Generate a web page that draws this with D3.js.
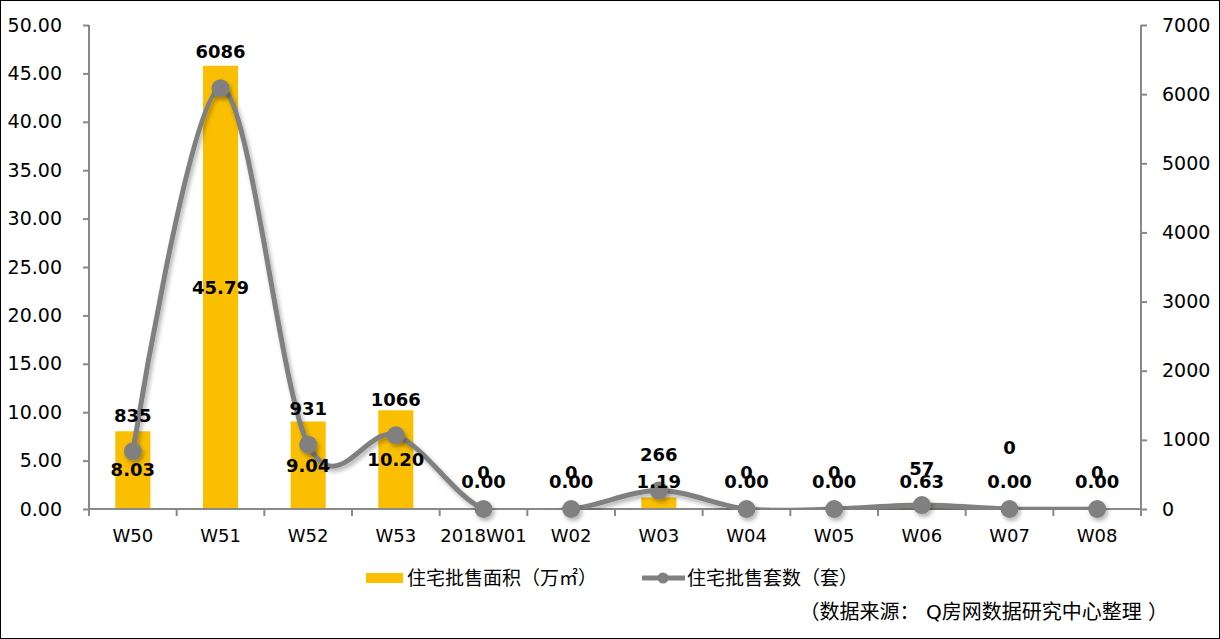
<!DOCTYPE html>
<html>
<head>
<meta charset="utf-8">
<script src="https://cdn.jsdelivr.net/npm/d3@7"></script>
<style>
    body { margin: 0; background: #fff; }
    text { font-family: "DejaVu Sans", "Noto Sans CJK SC", sans-serif; }
</style>
</head>
<body>
<script>
// weekly data
let weeks = ['W50', 'W51', 'W52', 'W53', '2018W01', 'W02', 'W03', 'W04', 'W05', 'W06', 'W07', 'W08'];
let areaValues = [8.03, 45.79, 9.04, 10.20, 0, 0, 1.19, 0, 0, 0.63, 0, 0];
let unitValues = [835, 6086, 931, 1066, 0, 0, 266, 0, 0, 57, 0, 0];
let leftTicks = [0, 5, 10, 15, 20, 25, 30, 35, 40, 45, 50];
let rightTicks = [0, 1000, 2000, 3000, 4000, 5000, 6000, 7000];
let areaName = '住宅批售面积（万㎡）';
let unitName = '住宅批售套数（套）';
let sourceNote = '（数据来源： Q房网数据研究中心整理 ）';

let W = 1220, H = 639;
let margin = {top: 25, bottom: 130, right: 79, left: 89},
    width = W - margin.left - margin.right,
    height = H - margin.top - margin.bottom;
let barColor = '#FABF00', lineColor = '#808080', axisColor = '#898989';

let svg = d3.select('body').append('svg')
    .attr('width', W)
    .attr('height', H);

let defs = svg.append('defs');
let f = defs.append('filter').attr('id', 'shadow')
    .attr('x', '-50%').attr('y', '-50%').attr('width', '200%').attr('height', '200%');
f.append('feDropShadow').attr('dx', 2).attr('dy', 3).attr('stdDeviation', 2)
    .attr('flood-color', '#000').attr('flood-opacity', 0.3);
// series are clipped to the plot area like in the original chart
defs.append('clipPath').attr('id', 'plot')
    .append('rect').attr('x', -20).attr('y', -20).attr('width', width + 40).attr('height', height + 21);

svg.append('rect').attr('x', 0.5).attr('y', 0.5).attr('width', W - 1).attr('height', H - 1)
    .attr('fill', '#fff').attr('stroke', '#000').attr('stroke-width', 1);

let g = svg.append('g').attr('transform', 'translate(' + margin.left + ',' + margin.top + ')');

let x = d3.scaleBand().domain(weeks).range([0, width]).paddingInner(0.6).paddingOuter(0.3);
let xc = function (d) { return x(d) + x.bandwidth() / 2; };
let yL = d3.scaleLinear().domain([0, 50]).range([height, 0]);
let yR = d3.scaleLinear().domain([0, 7000]).range([height, 0]);

// axes
let axisL = g.append('g')
    .call(d3.axisLeft(yL).tickValues(leftTicks).tickFormat(d3.format('.2f')).tickSize(6).tickPadding(21));
let axisR = g.append('g').attr('transform', 'translate(' + width + ',0)')
    .call(d3.axisRight(yR).tickValues(rightTicks).tickFormat(d3.format('d')).tickSize(6).tickPadding(15));
[axisL, axisR].forEach(function (a) {
    a.select('.domain').attr('stroke', axisColor).attr('stroke-width', 2).attr('d', 'M0,0V' + height);
    a.selectAll('.tick line').attr('stroke', axisColor).attr('stroke-width', 2);
    a.selectAll('.tick text').attr('fill', '#000').style('font-size', '19px');
});

// bars
g.selectAll('.bar').data(areaValues).enter().append('rect')
    .attr('class', 'bar')
    .attr('x', function (d, i) { return x(weeks[i]); })
    .attr('y', function (d) { return yL(d); })
    .attr('width', x.bandwidth())
    .attr('height', function (d) { return height - yL(d); })
    .attr('fill', barColor);

// x axis (drawn over bars)
let xAxis = g.append('g').attr('transform', 'translate(0,' + height + ')');
xAxis.append('line').attr('x1', 0).attr('x2', width).attr('stroke', axisColor).attr('stroke-width', 2);
xAxis.selectAll('.xt').data(d3.range(weeks.length + 1)).enter().append('line')
    .attr('x1', function (i) { return i * width / weeks.length; })
    .attr('x2', function (i) { return i * width / weeks.length; })
    .attr('y1', 0).attr('y2', 7)
    .attr('stroke', axisColor).attr('stroke-width', 2);
xAxis.selectAll('.xl').data(weeks).enter().append('text')
    .attr('x', function (d) { return xc(d); })
    .attr('y', 27)
    .attr('dy', '0.35em')
    .attr('text-anchor', 'middle')
    .style('font-size', '18px')
    .text(function (d) { return d; });

// line
let line = d3.line()
    .x(function (d, i) { return xc(weeks[i]); })
    .y(function (d) { return yR(d); })
    .curve(d3.curveCardinal.tension(0));
g.append('g').attr('clip-path', 'url(#plot)')
    .append('path').datum(unitValues)
    .attr('d', line)
    .attr('fill', 'none')
    .attr('stroke', lineColor)
    .attr('stroke-width', 5)
    .attr('stroke-linecap', 'round')
    .attr('filter', 'url(#shadow)');
g.selectAll('.dot').data(unitValues).enter().append('circle')
    .attr('cx', function (d, i) { return xc(weeks[i]); })
    .attr('cy', function (d) { return yR(d); })
    .attr('r', 9)
    .attr('fill', lineColor)
    .attr('filter', 'url(#shadow)');

// data labels
g.selectAll('.barlabel').data(areaValues).enter().append('text')
    .attr('x', function (d, i) { return xc(weeks[i]); })
    .attr('y', function (d) { return Math.min((yL(d) + height) / 2, height - 27); })
    .attr('dy', '0.35em')
    .attr('text-anchor', 'middle')
    .style('font-size', '18px').style('font-weight', 'bold')
    .text(function (d) { return d3.format('.2f')(d); });
g.selectAll('.linelabel').data(unitValues).enter().append('text')
    .attr('x', function (d, i) { return xc(weeks[i]); })
    .attr('y', function (d, i) { return yR(d) - (i === 10 ? 61 : 36); })
    .attr('dy', '0.35em')
    .attr('text-anchor', 'middle')
    .style('font-size', '18px').style('font-weight', 'bold')
    .text(function (d) { return d; });

// legend
let legend = svg.append('g').attr('transform', 'translate(0,578)');
legend.append('rect').attr('x', 366).attr('y', -5).attr('width', 37).attr('height', 10).attr('fill', barColor);
legend.append('text').attr('x', 407).attr('dy', '0.35em').style('font-size', '19px').text(areaName);
legend.append('line').attr('x1', 642).attr('x2', 685).attr('stroke', lineColor).attr('stroke-width', 5);
legend.append('circle').attr('cx', 663).attr('r', 5.5).attr('fill', lineColor);
legend.append('text').attr('x', 687).attr('dy', '0.35em').style('font-size', '19px').text(unitName);

svg.append('text')
    .attr('x', 1168).attr('y', 612).attr('dy', '0.35em')
    .attr('text-anchor', 'end')
    .style('font-size', '20px')
    .text(sourceNote);
</script>
</body>
</html>
